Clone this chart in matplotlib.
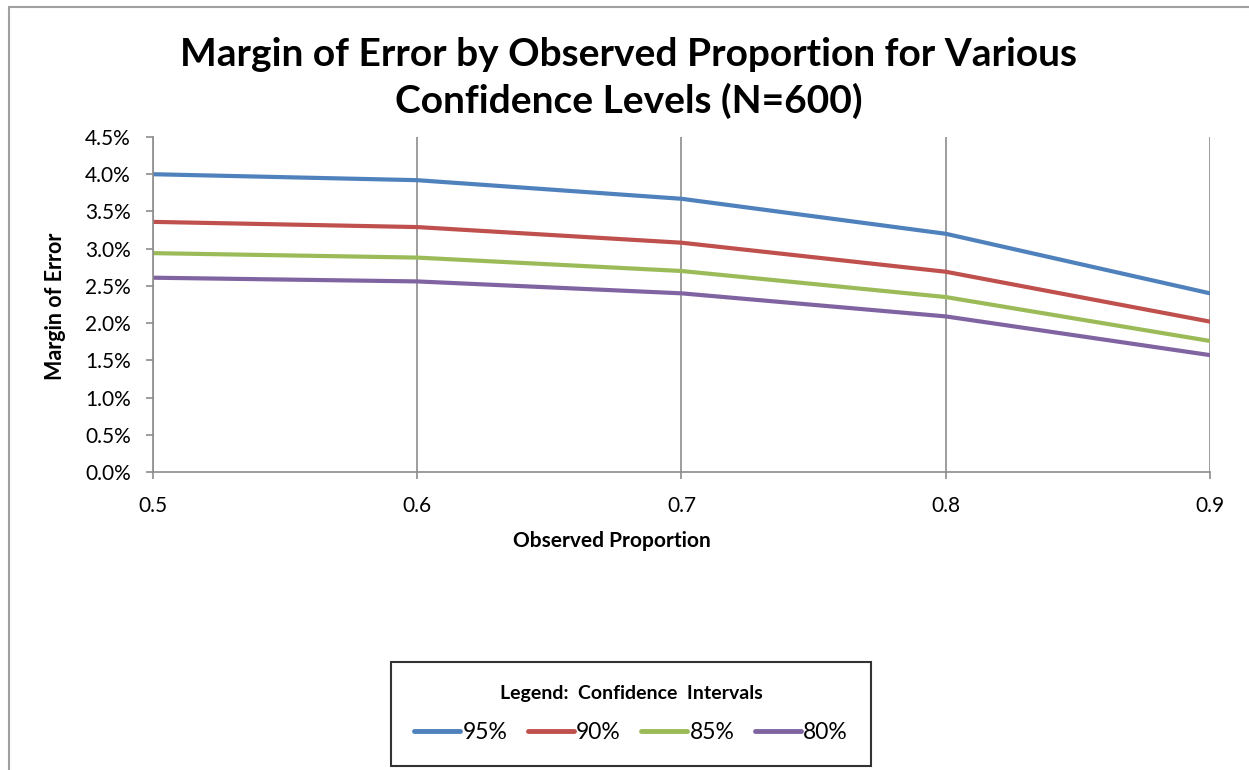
import matplotlib
matplotlib.use("Agg")
import matplotlib.pyplot as plt
from matplotlib.patches import Rectangle
from matplotlib.ticker import FuncFormatter

plt.rcParams["font.family"] = ["Lato", "DejaVu Sans"]

proportions = [0.5, 0.6, 0.7, 0.8, 0.9]
moe_95 = [0.0400, 0.0392, 0.0367, 0.0320, 0.0240]
moe_90 = [0.0336, 0.0329, 0.0308, 0.0269, 0.0202]
moe_85 = [0.0294, 0.0288, 0.0270, 0.0235, 0.0176]
moe_80 = [0.0261, 0.0256, 0.0240, 0.0209, 0.0157]
series = [("95%", moe_95, "#4F81BD"), ("90%", moe_90, "#C0504D"),
          ("85%", moe_85, "#9BBB59"), ("80%", moe_80, "#8064A2")]

W, H = 1249, 770
fig = plt.figure(figsize=(W / 100, H / 100), dpi=100)

# chart-area border (clipped at right and bottom like the screenshot)
fig.patches.append(Rectangle((9 / W, -0.1), 1.2, 1 - 7 / H + 0.1, transform=fig.transFigure,
                             fill=False, edgecolor="#A0A0A0", linewidth=1.5))

ax = fig.add_axes([153 / W, 1 - 472 / H, (1210 - 153) / W, (472 - 137) / H])
for name, vals, col in series:
    ax.plot(proportions, vals, color=col, linewidth=3, label=name, solid_capstyle="round")

ax.set_xlim(0.5, 0.9)
ax.set_ylim(0, 0.045)
ax.set_xticks(proportions)
ax.set_xticklabels([f"{p:.1f}" for p in proportions])
ax.set_yticks([i * 0.005 for i in range(10)])
ax.yaxis.set_major_formatter(FuncFormatter(lambda v, _: f"{v * 100:.1f}%"))
ax.grid(True, axis="x", color="#8C8C8C", linewidth=1.2)
ax.set_axisbelow(True)
for s in ["top", "right"]:
    ax.spines[s].set_visible(False)
for s in ["left", "bottom"]:
    ax.spines[s].set_color("#8C8C8C")
    ax.spines[s].set_linewidth(1.2)
ax.tick_params(colors="#8C8C8C", labelcolor="black", labelsize=15, length=5, width=1.2)
ax.tick_params(axis="y", pad=11)
ax.tick_params(axis="x", pad=12)

fig.text(612 / W, 1 - 541 / H, "Observed Proportion", ha="center", va="center",
         fontsize=15, fontweight="bold")
fig.text(55 / W, 1 - 306 / H, "Margin of Error", ha="center", va="center",
         rotation=90, fontsize=15.5, fontweight="bold")

fig.text(629 / W, 1 - 78 / H, "Margin of Error by Observed Proportion for Various\nConfidence Levels (N=600)",
         ha="center", va="center", fontsize=28, fontweight="bold", linespacing=1.38)

leg = fig.legend(loc="center", bbox_to_anchor=(631 / W, 1 - 714 / H), ncol=4,
                 title="Legend:  Confidence  Intervals", fontsize=16.5,
                 title_fontproperties={"weight": "bold", "size": 14},
                 frameon=True, fancybox=False, edgecolor="black", handlelength=2.0,
                 handletextpad=0.1, columnspacing=0.9, borderpad=1.0, labelspacing=0.5)
leg.get_frame().set_linewidth(1.5)
for line in leg.get_lines():
    line.set_linewidth(3.5)
leg._legend_box.sep = 14

fig.savefig("out.png", dpi=100)
